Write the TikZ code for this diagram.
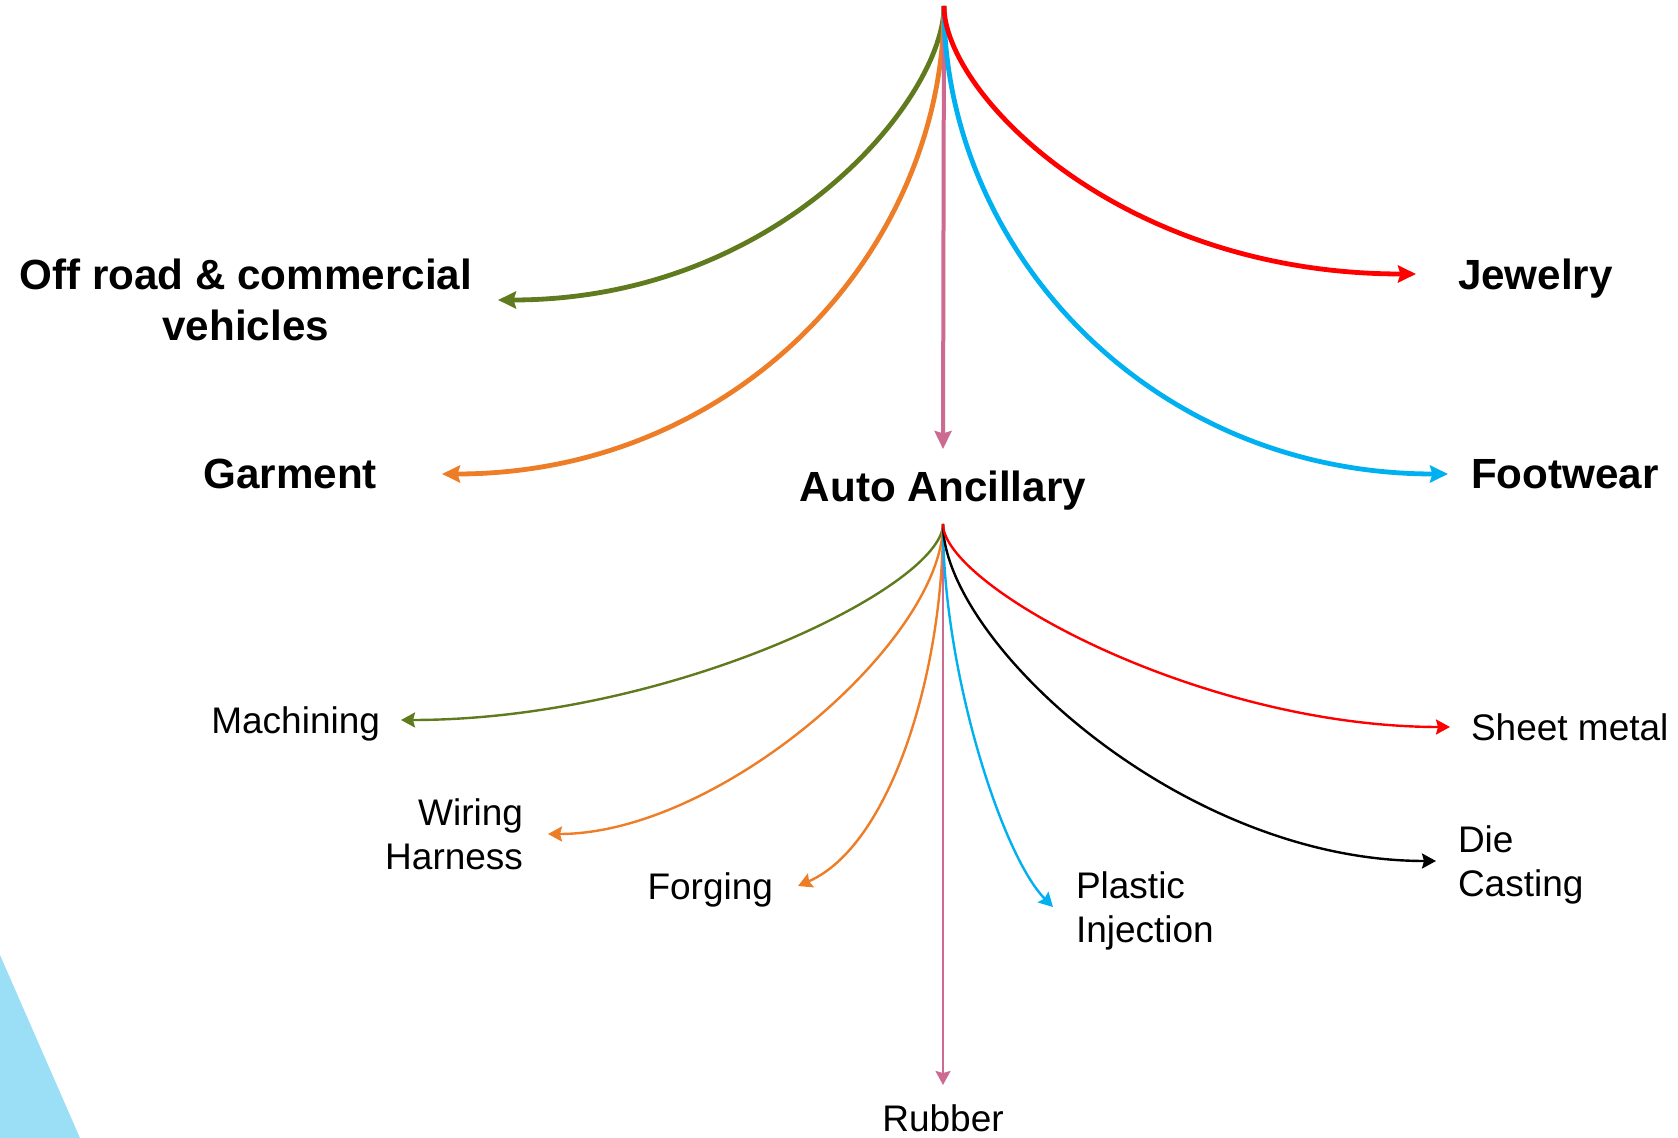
\documentclass[tikz,border=0pt]{standalone}
\usepackage{fontspec}
\setmainfont{Liberation Sans}
\usetikzlibrary{arrows.meta}
\definecolor{oliveline}{RGB}{96,122,30}
\definecolor{orangeline}{RGB}{237,125,38}
\definecolor{pinkline}{RGB}{204,106,146}
\definecolor{blueline}{RGB}{0,176,240}
\definecolor{redline}{RGB}{255,0,0}
\definecolor{paleblue}{RGB}{155,223,247}
\begin{document}
\begin{tikzpicture}[x=0.5pt,y=-0.5pt,
  biglabel/.style={inner sep=0pt,text depth=0pt,font=\fontsize{21.1}{25.4}\selectfont\bfseries},
  sublabel/.style={inner sep=0pt,text depth=0pt,font=\fontsize{18.5}{22}\selectfont},
  mainarr/.style={line width=2.4pt,-{Stealth[length=9pt,width=8.5pt,inset=1.2pt]}},
  subarr/.style={line width=1.2pt,-{Stealth[length=7pt,width=7.5pt,inset=1pt]}}]
\useasboundingbox (0,0) rectangle (1678,1138) ;
\fill [paleblue] (0,955) -- (80,1138) -- (0,1138) -- cycle ;
\coordinate (top) at (944,6) ;
\coordinate (hub) at (943,524) ;
\node [biglabel,align=center,anchor=east,outer xsep=13pt] (offroad) at (498,300) {Off road \& commercial\\vehicles} ;
\node [biglabel,anchor=east,outer xsep=32.5pt] (garment) at (442,474) {Garment} ;
\node [biglabel,anchor=west,outer xsep=21pt] (jewelry) at (1416,274) {Jewelry} ;
\node [biglabel,anchor=west,outer xsep=11.5pt] (footwear) at (1448,474) {Footwear} ;
\node [biglabel,anchor=north,outer ysep=11pt] (anc) at (943,449) {Auto Ancillary} ;
\draw [mainarr,oliveline] (top) .. controls +(0,92) and +(282,0) .. (offroad.east) ;
\draw [mainarr,orangeline] (top) .. controls +(0,244) and +(296,0) .. (garment.east) ;
\draw [mainarr,pinkline,line width=2pt] (top) -- (anc.north) ;
\draw [mainarr,blueline] (top) .. controls +(0,244) and +(-298,0) .. (footwear.west) ;
\draw [mainarr,redline] (top) .. controls +(0,87) and +(-297,0) .. (jewelry.west) ;
\node [sublabel,anchor=east,outer xsep=10.5pt] (machining) at (401,720) {Machining} ;
\node [sublabel,align=right,anchor=east,outer xsep=12.5pt] (wiring) at (548,834) {Wiring\\Harness} ;
\node [sublabel,anchor=east,outer xsep=12.5pt] (forging) at (798,886) {Forging} ;
\node [sublabel,anchor=north,outer ysep=9.75pt] (rubber) at (943,1085) {Rubber} ;
\node [sublabel,align=left,anchor=west,outer xsep=11.5pt] (plastic) at (1053,907) {Plastic\\Injection} ;
\node [sublabel,align=left,anchor=west,outer xsep=11pt] (diecasting) at (1436,861) {Die\\Casting} ;
\node [sublabel,anchor=west,outer xsep=10.5pt] (sheetmetal) at (1450,727) {Sheet metal} ;
\draw [subarr,oliveline] (hub) .. controls +(0,62) and +(271,0) .. (machining.east) ;
\draw [subarr,orangeline] (hub) .. controls +(0,116) and +(172,0) .. (wiring.east) ;
\draw [subarr,orangeline] (hub) .. controls +(0,150) and +(92,-40) .. (forging.east) ;
\draw [subarr,pinkline,line width=1pt] (hub) -- (rubber.north) ;
\draw [subarr,blueline] (hub) .. controls +(0,150) and +(-50,-50) .. (plastic.west) ;
\draw [subarr,black] (hub) .. controls +(0,116) and +(-256,0) .. (diecasting.west) ;
\draw [subarr,redline] (hub) .. controls +(0,62) and +(-250,0) .. (sheetmetal.west) ;
\end{tikzpicture}
\end{document}
